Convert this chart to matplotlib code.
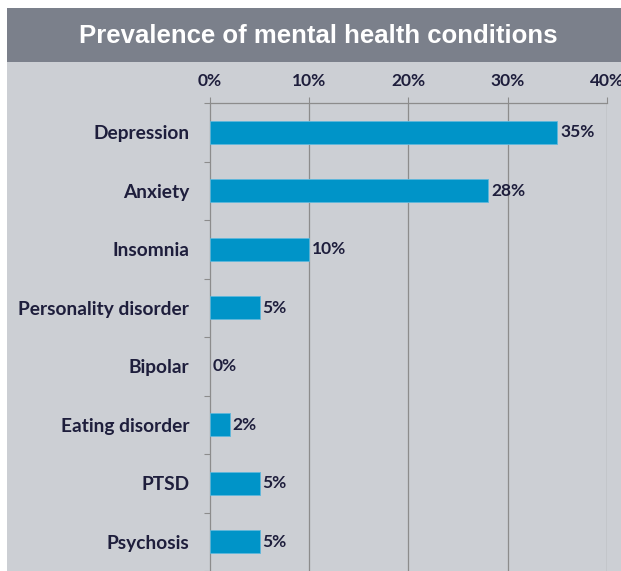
import matplotlib
matplotlib.use('Agg')
import matplotlib.pyplot as plt
from matplotlib.patches import Rectangle
from matplotlib.ticker import FuncFormatter, FixedLocator

conditions = ['Depression', 'Anxiety', 'Insomnia', 'Personality disorder',
              'Bipolar', 'Eating disorder', 'PTSD', 'Psychosis']
prevalence = [35, 28, 10, 5, 0, 2, 5, 5]
x_ticks = [0, 10, 20, 30, 40]

C_BAR = '#0094C8'
C_BAND = '#7B808B'
C_PANEL = '#CCCFD4'
C_GRID = '#8C8C8C'
C_TEXT = '#1E1E3C'
LABEL_FONT = ['Lato', 'DejaVu Sans']

fig = plt.figure(figsize=(6.21, 5.71), dpi=100, facecolor='white')

# background panels: dark title band over a light plot area
fig.patches.append(Rectangle((7 / 621, 0), 1, 1 - 62 / 571, transform=fig.transFigure,
                             fc=C_PANEL, ec='none', zorder=-2))
fig.patches.append(Rectangle((7 / 621, 1 - 62 / 571), 1, 54 / 571, transform=fig.transFigure,
                             fc=C_BAND, ec='none', zorder=-2))
fig.text(318 / 621, 1 - 36 / 571, 'Prevalence of mental health conditions',
         color='white', fontsize=18.5, fontweight='bold', family='Liberation Sans',
         ha='center', va='center')

ax = fig.add_axes([210 / 621, 0, (607 - 210) / 621, 1 - 103 / 571])
ax.set_facecolor('none')

y = list(range(len(conditions)))
# thin light border only on non-empty bars
edge = ['#5FB8DC' if v > 0 else 'none' for v in prevalence]
ax.barh(y, prevalence, height=0.4, color=C_BAR, edgecolor=edge, lw=0.6, zorder=3)
for yi, v in zip(y, prevalence):
    ax.text(v + 0.3, yi, f'{v}%', va='center', ha='left', color=C_TEXT,
            fontsize=12.5, fontweight='bold', family=LABEL_FONT, zorder=4)

ax.set_xlim(0, 40)
ax.set_ylim(len(conditions) - 0.5, -0.5)
ax.xaxis.set_ticks_position('top')
ax.set_xticks(x_ticks)
ax.xaxis.set_major_formatter(FuncFormatter(lambda v, _: f'{v:.0f}%'))
ax.tick_params(axis='x', length=4, width=0.8, color=C_GRID, pad=6,
               labelsize=12.5, labelcolor=C_TEXT)
for lab in ax.get_xticklabels():
    lab.set_fontweight('bold')
    lab.set_family(LABEL_FONT)

ax.set_yticks(y)
ax.set_yticklabels(conditions)
ax.yaxis.set_minor_locator(FixedLocator([i + 0.5 for i in range(-1, len(conditions))]))
ax.tick_params(axis='y', which='major', length=0, pad=15, labelsize=13.8, labelcolor=C_TEXT)
ax.tick_params(axis='y', which='minor', length=4, width=0.8, color=C_GRID)
for lab in ax.get_yticklabels():
    lab.set_fontweight('bold')
    lab.set_family(LABEL_FONT)

for xv in x_ticks[1:]:
    ax.axvline(xv, color=C_GRID, lw=0.9, zorder=1)

for side in ['right', 'bottom']:
    ax.spines[side].set_visible(False)
for side in ['top', 'left']:
    ax.spines[side].set_color(C_GRID)
    ax.spines[side].set_linewidth(0.9)

fig.savefig('out.png', dpi=100, facecolor='white')
